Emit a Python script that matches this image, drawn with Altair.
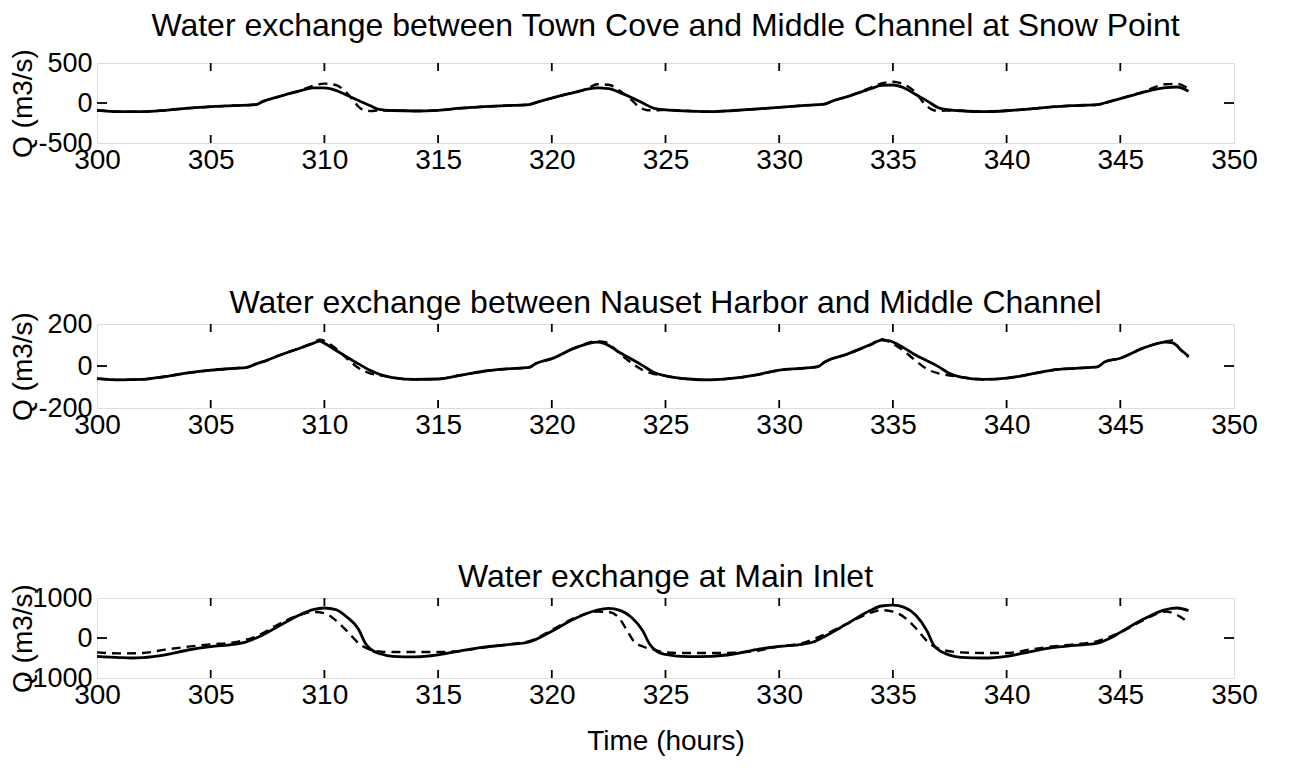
import altair as alt
import pandas as pd

FONT = "Liberation Sans"
FS_TICK = 28
FS_TITLE = 32
FS_AX = 28
W = 1137

X_TICKS = [300, 305, 310, 315, 320, 325, 330, 335, 340, 345, 350]

# ---------------- Panel 1: Town Cove / Middle Channel at Snow Point ----------------
p1_title = "Water exchange between Town Cove and Middle Channel at Snow Point"
p1_yticks = [-500, 0, 500]
p1_t_solid = [300, 301, 302, 303, 304, 305, 306, 307, 307.3, 308, 309, 309.5, 310, 310.5, 311, 311.5,
              312, 312.4, 313, 314, 315, 316, 317, 318, 319, 319.4, 320, 321, 322, 322.5, 323, 323.5,
              324, 324.5, 325, 326, 327, 328, 329, 330, 331, 332, 332.3, 333, 334, 334.5, 335, 335.5,
              336, 336.5, 337, 337.3, 338, 339, 340, 341, 342, 343, 344, 344.3, 345, 346, 347, 347.5, 348]
p1_q_solid = [-91, -108, -108, -91, -65, -46, -32, -19, 20, 80, 158, 188, 190, 158, 97, 30,
              -32, -80, -94, -100, -91, -65, -46, -32, -19, 15, 62, 134, 188, 180, 130, 70,
              0, -67, -86, -100, -108, -94, -75, -54, -32, -13, 21, 80, 175, 220, 225, 188,
              107, 27, -59, -80, -97, -108, -97, -75, -48, -32, -21, 0, 54, 134, 193, 200, 148]
p1_t_dash = [300, 301, 302, 303, 304, 305, 306, 307, 307.3, 308, 309, 309.5, 310, 310.5, 311, 311.3,
             311.6, 312, 312.4, 313, 314, 315, 316, 317, 318, 319, 319.4, 320, 321, 321.5, 322, 322.5,
             323, 323.5, 323.8, 324.2, 324.6, 325, 326, 327, 328, 329, 330, 331, 332, 332.3, 333, 334,
             334.5, 335, 335.5, 336, 336.3, 336.7, 337, 337.3, 338, 339, 340, 341, 342, 343, 344, 344.3,
             345, 346, 347, 347.5, 348]
p1_q_dash = [-91, -108, -108, -91, -65, -46, -32, -19, 20, 80, 162, 215, 242, 225, 120, 20,
             -70, -100, -95, -94, -100, -91, -65, -46, -32, -19, 15, 62, 134, 170, 235, 228,
             150, 40, -40, -90, -92, -86, -100, -108, -94, -75, -54, -32, -13, 21, 80, 190,
             245, 265, 230, 130, 20, -80, -100, -95, -97, -108, -97, -75, -48, -32, -21, 0,
             54, 140, 235, 240, 180]

# ---------------- Panel 2: Nauset Harbor / Middle Channel ----------------
p2_title = "Water exchange between Nauset Harbor and Middle Channel"
p2_yticks = [-200, 0, 200]
p2_t_solid = [300, 301, 302, 303, 304, 305, 306, 306.6, 307, 307.5, 308, 309, 309.5, 309.8, 310, 310.5,
              311, 311.5, 312, 312.5, 313, 314, 315, 316, 317, 318, 319, 319.3, 320, 321, 322, 322.3,
              323, 324, 324.5, 325, 326, 327, 328, 329, 330, 331, 331.7, 332, 333, 334, 334.5, 334.8,
              335.5, 336, 337, 337.5, 338, 339, 340, 341, 342, 343, 344, 344.3, 345, 346, 347, 347.3,
              347.7, 348]
p2_q_solid = [-60, -66, -64, -50, -33, -20, -11, -6, 10, 28, 50, 88, 108, 118, 108, 75,
              42, 10, -20, -42, -55, -64, -62, -44, -25, -14, -7, 12, 35, 85, 114, 108,
              63, 2, -31, -47, -62, -66, -58, -42, -20, -11, -3, 19, 57, 101, 123, 121,
              85, 52, -3, -36, -53, -64, -58, -40, -20, -11, -4, 19, 37, 85, 114, 110,
              74, 46]
p2_t_dash = [300, 301, 302, 303, 304, 305, 306, 306.6, 307, 307.5, 308, 309, 309.5, 309.8, 310.3, 310.8,
             311.1, 311.5, 312, 312.5, 313, 314, 315, 316, 317, 318, 319, 319.3, 320, 321, 322, 322.4,
             323, 323.5, 324, 324.5, 325, 326, 327, 328, 329, 330, 331, 331.7, 332, 333, 334, 334.5,
             335, 335.5, 336, 336.5, 337, 337.5, 338, 339, 340, 341, 342, 343, 344, 344.3, 345, 346,
             347, 347.3, 347.6, 348]
p2_q_dash = [-60, -66, -64, -50, -33, -20, -11, -6, 10, 28, 50, 88, 110, 125, 100, 55,
             25, -10, -35, -45, -55, -64, -62, -44, -25, -14, -7, 12, 35, 85, 118, 112,
             58, 15, -20, -38, -47, -62, -66, -58, -42, -20, -11, -3, 19, 57, 101, 128,
             105, 70, 25, -15, -35, -45, -53, -64, -58, -40, -20, -11, -4, 19, 37, 85,
             117, 122, 82, 42]

# ---------------- Panel 3: Main Inlet ----------------
p3_title = "Water exchange at Main Inlet"
p3_yticks = [-1000, 0, 1000]
p3_t_solid = [300, 301, 301.5, 302, 303, 304, 305, 306, 306.5, 307, 308, 309, 309.5, 310, 310.5, 311,
              311.5, 311.8, 312, 312.5, 313, 314, 315, 316, 317, 318, 319, 319.5, 320, 321, 322, 322.5,
              323, 323.5, 324, 324.3, 324.6, 325, 326, 327, 328, 329, 330, 331, 331.5, 332, 333, 334,
              334.5, 335, 335.5, 336, 336.5, 336.8, 337, 337.5, 338, 339, 340, 341, 342, 343, 344, 344.5,
              345, 346, 347, 347.5, 348]
p3_q_solid = [-457, -490, -500, -490, -420, -300, -215, -160, -110, 0, 300, 600, 710, 750, 710, 520,
              220, -130, -266, -400, -457, -470, -420, -320, -230, -170, -100, 20, 170, 480, 700, 740,
              690, 520, 180, -150, -330, -410, -467, -457, -400, -290, -212, -158, -100, 40, 360, 685,
              800, 820, 766, 576, 180, -185, -293, -430, -484, -500, -457, -348, -240, -185, -130, -20,
              140, 467, 712, 750, 685]
p3_t_dash = [300, 301, 302, 303, 304, 305, 306, 307, 308, 309, 309.5, 310, 310.5, 311, 311.5, 312,
             312.5, 313, 314, 315, 316, 317, 318, 319, 320, 321, 322, 322.5, 323, 323.3, 323.6, 324,
             324.5, 325, 326, 327, 328, 329, 330, 331, 332, 333, 334, 334.5, 335, 335.5, 336, 336.5,
             337, 338, 339, 340, 341, 342, 343, 344, 345, 346, 347, 347.5, 348]
p3_q_dash = [-360, -385, -375, -290, -217, -158, -110, 40, 350, 590, 650, 620, 440, 170, -130, -290,
             -340, -350, -350, -350, -320, -240, -160, -80, 200, 500, 660, 650, 470, 195, -76, -212,
             -293, -360, -375, -375, -370, -320, -212, -130, 87, 360, 630, 695, 660, 520, 250, -76,
             -266, -360, -375, -375, -293, -212, -158, -76, 140, 440, 660, 576, 385]

NEG_LABEL = "datum.value < 0 ? '-' + abs(datum.value) : '' + datum.value"


def panel(title, ts, qs, td, qd, yticks, H, title_offset, xtitle=None):
    ydom = [yticks[0], yticks[-1]]
    xscale = alt.Scale(domain=[300, 350], nice=False, zero=False)
    yscale = alt.Scale(domain=ydom, nice=False, zero=False)
    xaxis = alt.Axis(values=X_TICKS, ticks=False, domain=False, grid=False, labelExpr=NEG_LABEL,
                     labelFont=FONT, labelFontSize=FS_TICK, labelColor="black", labelPadding=3,
                     labelFlush=False, labelOverlap=False,
                     titleFont=FONT, titleFontSize=FS_AX, titleFontWeight="normal",
                     titleColor="black", titlePadding=18)
    yaxis = alt.Axis(values=yticks, ticks=False, domain=False, grid=False, labelExpr=NEG_LABEL,
                     labelFont=FONT, labelFontSize=FS_TICK - 1, labelColor="black", labelPadding=5,
                     labelFlush=False, labelOverlap=False,
                     titleFont=FONT, titleFontSize=FS_AX, titleFontWeight="normal",
                     titleColor="black", titleX=-60, titleY=H / 2)
    x_enc = alt.X("t:Q", scale=xscale, axis=xaxis, title=xtitle)
    y_enc = alt.Y("q:Q", scale=yscale, axis=yaxis, title="Q (m3/s)")
    solid = pd.DataFrame({"t": ts, "q": qs})
    dash = pd.DataFrame({"t": td, "q": qd})
    l_solid = alt.Chart(solid).mark_line(color="black", strokeWidth=2.8,
                                         interpolate="monotone").encode(x=x_enc, y=y_enc)
    l_dash = alt.Chart(dash).mark_line(color="black", strokeWidth=2.4, strokeDash=[9, 6],
                                       interpolate="monotone").encode(x=x_enc, y=y_enc)
    xt = pd.DataFrame({"t": X_TICKS[1:-1]})
    yt = pd.DataFrame({"q": yticks[1:-1]})
    tk = dict(color="black", strokeWidth=1.8)
    xb = alt.Chart(xt).mark_rule(**tk).encode(x=x_enc, y=alt.value(H), y2=alt.value(H - 8))
    xtp = alt.Chart(xt).mark_rule(**tk).encode(x=x_enc, y=alt.value(0), y2=alt.value(8))
    yl = alt.Chart(yt).mark_rule(**tk).encode(y=y_enc, x=alt.value(0), x2=alt.value(10))
    yr = alt.Chart(yt).mark_rule(**tk).encode(y=y_enc, x=alt.value(W - 10), x2=alt.value(W))
    return alt.layer(l_solid, l_dash, xb, xtp, yl, yr).properties(
        width=W, height=H,
        title=alt.TitleParams(title, font=FONT, fontSize=FS_TITLE, fontWeight="normal",
                              color="black", offset=title_offset),
    )


c1 = panel(p1_title, p1_t_solid, p1_q_solid, p1_t_dash, p1_q_dash, p1_yticks, 80, 6)
c2 = panel(p2_title, p2_t_solid, p2_q_solid, p2_t_dash, p2_q_dash, p2_yticks, 84, -10)
c3 = panel(p3_title, p3_t_solid, p3_q_solid, p3_t_dash, p3_q_dash, p3_yticks, 80, -10,
           xtitle="Time (hours)")

top = alt.vconcat(c1, c2, spacing=111)
chart = alt.vconcat(top, c3, spacing=120).properties(
    padding={"left": 0, "top": 1, "right": 5, "bottom": 0}
).configure_view(stroke="black", strokeWidth=2).configure(background="white")

chart.save("out.html", embed_options={"renderer": "svg", "actions": False})
